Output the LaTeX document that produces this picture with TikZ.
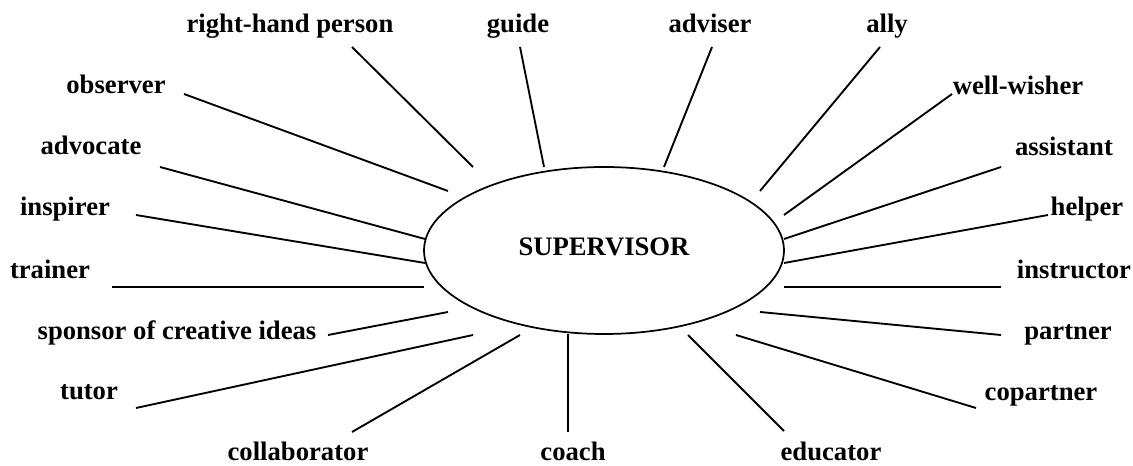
\documentclass[tikz,border=0pt]{standalone}
\usepackage{fontspec}
\setmainfont{Liberation Serif}
\usetikzlibrary{shapes.geometric}

\begin{document}
\begin{tikzpicture}[
          x=0.75pt, y=-0.75pt,
          hub/.style  = {draw, ellipse, line width=1.3pt, minimum width=270pt, minimum height=125.25pt, inner sep=0pt},
          role/.style = {anchor=base, inner sep=0pt, font=\fontsize{20}{24}\selectfont\bfseries},
          wire/.style = {line width=1.4pt}
        ]
        \useasboundingbox (0,0) rectangle (1133,466);

        % --- centre
        \node[hub, text depth=5.4pt, font=\fontsize{20}{24}\selectfont\bfseries] (sup) at (604,250.5) {SUPERVISOR};

        % --- roles, clockwise from the top
        \node[role] (rhp)    at (290,33)  {right-hand person};
        \node[role] (guide)  at (518,33)  {guide};
        \node[role] (adv)    at (710,33)  {adviser};
        \node[role] (ally)   at (887,33)  {ally};
        \node[role] (wish)   at (1018,95) {well-wisher};
        \node[role] (asst)   at (1064,156) {assistant};
        \node[role] (help)   at (1087,216) {helper};
        \node[role] (instr)  at (1074,279) {instructor};
        \node[role] (part)   at (1068,340) {partner};
        \node[role] (copart) at (1041,401) {copartner};
        \node[role] (edu)    at (831,461) {educator};
        \node[role] (coach)  at (573,461) {coach};
        \node[role] (collab) at (298,461) {collaborator};
        \node[role] (tutor)  at (89,400)  {tutor};
        \node[role] (spons)  at (177,340) {sponsor of creative ideas};
        \node[role] (train)  at (50,279)  {trainer};
        \node[role] (insp)   at (65,216)  {inspirer};
        \node[role] (advoc)  at (91,155)  {advocate};
        \node[role] (obs)    at (116,94)  {observer};

        % --- spokes: outer end near the role, inner end near the ellipse
        \foreach \n/\ox/\oy/\ix/\iy in {
            rhp/352/47/473/167, guide/520/47/544/167, adv/712/47/664/167,
            ally/880/47/760/191, wish/952/94/784/215, asst/1001/167/784/239,
            help/1048/215/784/263, instr/1001/287/784/287, part/1001/335/760/312,
            copart/976/408/736/335, edu/784/431/688/335, coach/568/432/568/334,
            collab/352/432/520/335, tutor/136/408/473/335, spons/328/335/448/312,
            train/112/287/424/287, insp/136/215/425/263, advoc/160/167/425/239,
            obs/184/94/448/191}
        {
            \coordinate (\n-o) at (\ox,\oy);
            \coordinate (\n-i) at (\ix,\iy);
            \draw[wire] (\n-o) -- (\n-i);
        }
    \end{tikzpicture}
\end{document}
